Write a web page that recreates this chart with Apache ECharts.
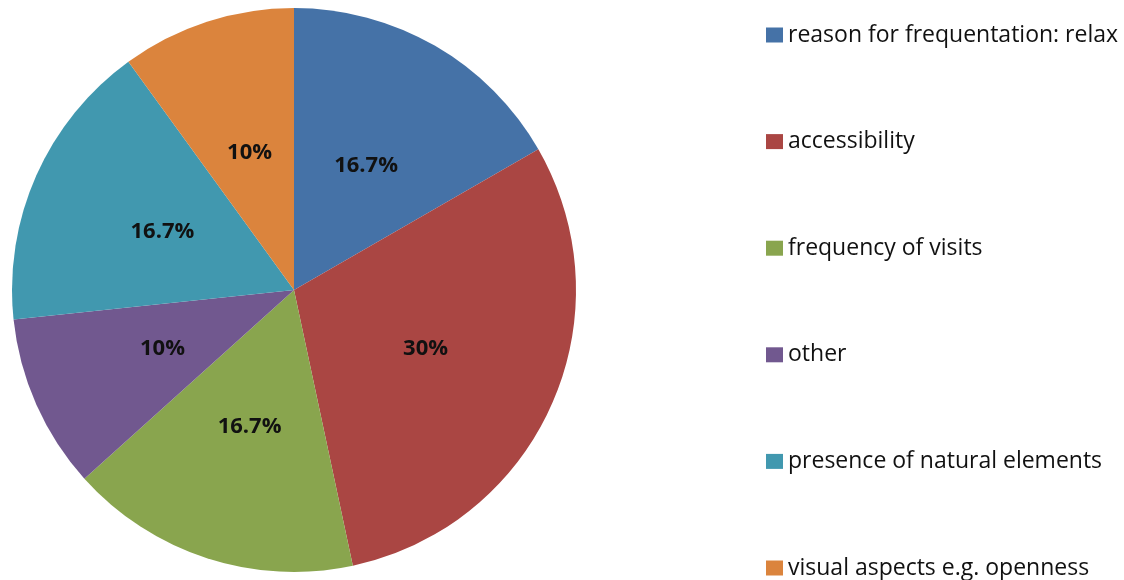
<!DOCTYPE html>
<html>
<head>
<meta charset="utf-8">
<script src="https://cdn.jsdelivr.net/npm/echarts@6/dist/echarts.min.js"></script>
<style>html,body{margin:0;padding:0;background:#fff}#c{width:1124px;height:580px}</style>
</head>
<body>
<div id="c"></div>
<script>
var categories = ["reason for frequentation: relax", "accessibility", "frequency of visits", "other", "presence of natural elements", "visual aspects e.g. openness"];
var values = [16.7, 30, 16.7, 10, 16.7, 10];
var colors = ["#4572A7", "#AA4643", "#89A54E", "#71588F", "#4198AF", "#DB843D"];

var chart = echarts.init(document.getElementById('c'));
chart.setOption({
  animation: false,
  color: colors,
  legend: {
    orient: 'vertical',
    left: 766,
    top: 23.5,
    height: 700,
    padding: 0,
    itemGap: 83.6,
    itemWidth: 17,
    itemHeight: 15,
    icon: 'rect',
    textStyle: { fontSize: 23, color: '#111', fontFamily: 'Open Sans, sans-serif' },
    data: categories
  },
  series: [{
    type: 'pie',
    center: [294, 290],
    radius: [0, 282],
    startAngle: 90,
    clockwise: true,
    avoidLabelOverlap: false,
    label: {
      show: true,
      position: 'inside',
      formatter: function(p){ return p.value + '%'; },
      fontSize: 22,
      fontWeight: 'bold',
      color: '#111',
      fontFamily: 'Open Sans, sans-serif',
      padding: [6,0,0,0]
    },
    labelLine: { show: false },
    itemStyle: { borderWidth: 0 },
    emphasis: { disabled: true },
    data: categories.map(function(n, i){ return { name: n, value: values[i] }; })
  }]
});
</script>
</body>
</html>
